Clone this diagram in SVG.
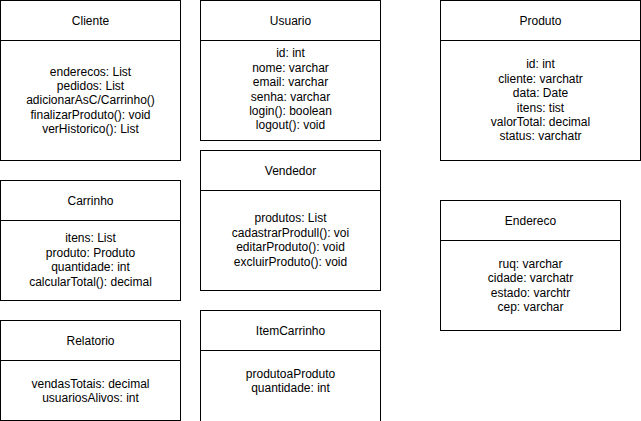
<svg xmlns="http://www.w3.org/2000/svg" width="641" height="421" viewBox="0 0 641 421">
<style>
.box{fill:#ffffff;stroke:#000000;stroke-width:1}
.div{stroke:#000000;stroke-width:1;fill:none}
text{font-family:"Liberation Sans",Arial,Helvetica,sans-serif;font-size:12px;fill:#000000;text-anchor:middle}
</style>
<rect width="641" height="421" fill="#ffffff"/>
<g id="connectors"></g>
<g id="Cliente">
<rect class="box" x="0.5" y="0.5" width="180" height="160"/>
<line class="div" x1="0.5" y1="40.5" x2="180.5" y2="40.5"/>
<text x="90.5" y="24.5">Cliente</text>
<text x="90.5" y="75.5">enderecos: List</text>
<text x="90.5" y="89.9">pedidos: List</text>
<text x="90.5" y="104.3">adicionarAsC/Carrinho()</text>
<text x="90.5" y="118.7">finalizarProduto(): void</text>
<text x="90.5" y="133.1">verHistorico(): List</text>
</g>
<g id="Usuario">
<rect class="box" x="200.5" y="0.5" width="180" height="140"/>
<line class="div" x1="200.5" y1="40.5" x2="380.5" y2="40.5"/>
<text x="290.5" y="24.5">Usuario</text>
<text x="290.5" y="57.3">id: int</text>
<text x="290.5" y="71.7">nome: varchar</text>
<text x="290.5" y="86.1">email: varchar</text>
<text x="290.5" y="100.5">senha: varchar</text>
<text x="290.5" y="114.9">login(): boolean</text>
<text x="290.5" y="129.3">logout(): void</text>
</g>
<g id="Produto">
<rect class="box" x="440.5" y="0.5" width="200" height="160"/>
<line class="div" x1="440.5" y1="40.5" x2="640.5" y2="40.5"/>
<text x="540.5" y="24.5">Produto</text>
<text x="540.5" y="68.3">id: int</text>
<text x="540.5" y="82.7">cliente: varchatr</text>
<text x="540.5" y="97.1">data: Date</text>
<text x="540.5" y="111.5">itens: tist</text>
<text x="540.5" y="125.9">valorTotal: decimal</text>
<text x="540.5" y="140.3">status: varchatr</text>
</g>
<g id="Carrinho">
<rect class="box" x="0.5" y="180.5" width="180" height="120"/>
<line class="div" x1="0.5" y1="220.5" x2="180.5" y2="220.5"/>
<text x="90.5" y="204.5">Carrinho</text>
<text x="90.5" y="242.3">itens: List</text>
<text x="90.5" y="256.7">produto: Produto</text>
<text x="90.5" y="271.1">quantidade: int</text>
<text x="90.5" y="285.5">calcularTotal(): decimal</text>
</g>
<g id="Vendedor">
<rect class="box" x="200.5" y="150.5" width="180" height="140"/>
<line class="div" x1="200.5" y1="190.5" x2="380.5" y2="190.5"/>
<text x="290.5" y="174.5">Vendedor</text>
<text x="290.5" y="222.3">produtos: List</text>
<text x="290.5" y="236.7">cadastrarProdull(): voi</text>
<text x="290.5" y="251.1">editarProduto(): void</text>
<text x="290.5" y="265.5">excluirProduto(): void</text>
</g>
<g id="Endereco">
<rect class="box" x="440.5" y="200.5" width="180" height="130"/>
<line class="div" x1="440.5" y1="240.5" x2="620.5" y2="240.5"/>
<text x="530.5" y="224.5">Endereco</text>
<text x="530.5" y="267.8">ruq: varchar</text>
<text x="530.5" y="282.2">cidade: varchatr</text>
<text x="530.5" y="296.6">estado: varchtr</text>
<text x="530.5" y="311">cep: varchar</text>
</g>
<g id="Relatorio">
<rect class="box" x="0.5" y="320.5" width="180" height="100"/>
<line class="div" x1="0.5" y1="360.5" x2="180.5" y2="360.5"/>
<text x="90.5" y="344.5">Relatorio</text>
<text x="90.5" y="387.5">vendasTotais: decimal</text>
<text x="90.5" y="401.9">usuariosAlivos: int</text>
</g>
<g id="ItemCarrinho">
<rect class="box" x="200.5" y="310.5" width="180" height="120"/>
<line class="div" x1="200.5" y1="350.5" x2="380.5" y2="350.5"/>
<text x="290.5" y="334.5">ItemCarrinho</text>
<text x="290.5" y="377.7">produtoaProduto</text>
<text x="290.5" y="392.1">quantidade: int</text>
</g>
</svg>
